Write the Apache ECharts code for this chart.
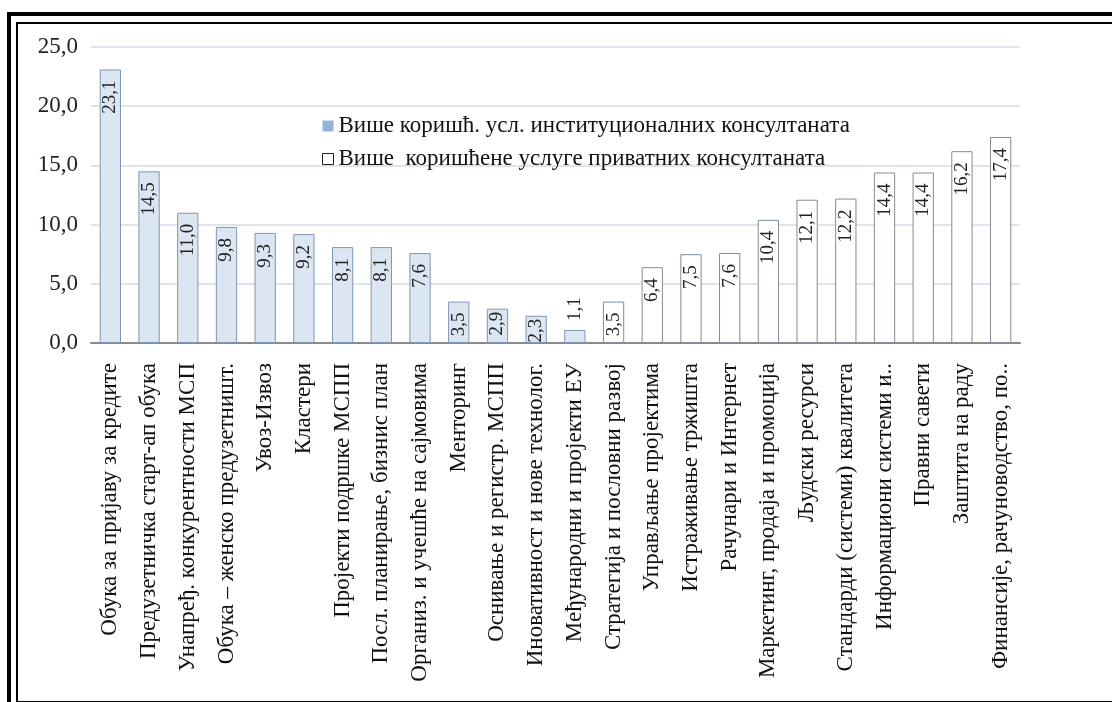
<!DOCTYPE html>
<html>
<head>
<meta charset="utf-8">
<script src="https://cdn.jsdelivr.net/npm/echarts@6/dist/echarts.min.js"></script>
<style>
  html, body { margin: 0; padding: 0; background: #fff; }
  #frame-outer { position: absolute; left: 7px; top: 12px; width: 1200px; height: 800px;
    border-left: 4px solid #000; border-top: 4px solid #000; }
  #frame-inner { position: absolute; left: 16px; top: 22px; width: 1200px; height: 677px;
    border-left: 2px solid #000; border-top: 2px solid #000; border-bottom: 2px solid #000; }
  #chart { position: absolute; left: 0; top: 0; width: 1112px; height: 702px; }
</style>
</head>
<body>
<div id="frame-outer"></div>
<div id="frame-inner"></div>
<div id="chart"></div>
<script>
// Service categories (share, %), sorted: institutional consultants first, then private
const categories = [
  'Обука за пријаву за кредите',
  'Предузетничка старт-ап обука',
  'Унапређ. конкурентности МСП',
  'Обука – женско предузетништ.',
  'Увоз-Извоз',
  'Кластери',
  'Пројекти подршке МСПП',
  'Посл. планирање, бизнис план',
  'Организ. и учешће на сајмовима',
  'Менторинг',
  'Оснивање и регистр. МСПП',
  'Иновативност и нове технолог.',
  'Међународни и пројекти ЕУ',
  'Стратегија и пословни развој',
  'Управљање пројектима',
  'Истраживање тржишта',
  'Рачунари и Интернет',
  'Маркетинг, продаја и промоција',
  'Људски ресурси',
  'Стандарди (системи) квалитета',
  'Информациони системи и..',
  'Правни савети',
  'Заштита на раду',
  'Финансије, рачуноводство, по..'
];
const shares = [23.1, 14.5, 11.0, 9.8, 9.3, 9.2, 8.1, 8.1, 7.6, 3.5, 2.9, 2.3, 1.1,
                3.5, 6.4, 7.5, 7.6, 10.4, 12.1, 12.2, 14.4, 14.4, 16.2, 17.4];
// number of leading categories where institutional consultants were used more
const institutionalCount = 13;
const seriesNames = [
  'Више коришћ. усл. институционалних консултаната',
  'Више  коришћене услуге приватних консултаната'
];
const yTicks = { min: 0, max: 25, interval: 5 };

const serif = '"Liberation Serif", "DejaVu Serif", serif';
const fmt = v => v.toFixed(1).replace('.', ',');

// value labels sit inside the bar end; short bars pull them up tight,
// the shortest bars get them just above the bar
const valueLabel = {
  show: true,
  position: 'insideTop',
  rotate: 90,
  align: 'right',
  verticalAlign: 'middle',
  distance: 11,
  fontFamily: serif,
  fontSize: 19,
  color: '#222',
  formatter: p => fmt(p.value)
};
const outsideLabel = { position: 'top', align: 'left', distance: 9 };
const tightLabel = { distance: 3 };

const toItem = v => {
  if (v < 2) return { value: v, label: outsideLabel };
  if (v < 3) return { value: v, label: tightLabel };
  return v;
};
const instData = shares.map((v, i) => i < institutionalCount ? toItem(v) : '-');
const privData = shares.map((v, i) => i >= institutionalCount ? toItem(v) : '-');

const chart = echarts.init(document.getElementById('chart'), null, { renderer: 'canvas' });
chart.setOption({
  animation: false,
  backgroundColor: 'transparent',
  grid: { left: 91, right: 92, top: 47, bottom: 359 },
  legend: {
    orient: 'vertical',
    left: 317,
    top: 109,
    itemWidth: 11,
    itemHeight: 11,
    itemGap: 9,
    icon: 'rect',
    textStyle: { fontFamily: serif, fontSize: 23, lineHeight: 24, color: '#111', padding: [0, 0, 0, 0] },
    data: [
      { name: seriesNames[0], itemStyle: { color: '#95b3d7', borderWidth: 0 } },
      { name: seriesNames[1], itemStyle: { color: '#fff', borderColor: '#222', borderWidth: 1 } }
    ]
  },
  xAxis: {
    type: 'category',
    data: categories,
    axisTick: { show: false },
    axisLine: { lineStyle: { color: '#8a8a8a', width: 2 } },
    axisLabel: {
      interval: 0,
      rotate: 90,
      margin: 20,
      fontFamily: serif,
      fontSize: 23,
      color: '#111'
    }
  },
  yAxis: {
    type: 'value',
    min: yTicks.min,
    max: yTicks.max,
    interval: yTicks.interval,
    axisLine: { show: false },
    axisTick: { show: false },
    splitLine: { lineStyle: { color: '#d5dbe6', width: 1.5 } },
    axisLabel: {
      margin: 13,
      fontFamily: serif,
      fontSize: 23,
      color: '#222',
      formatter: v => fmt(v)
    }
  },
  series: [
    {
      name: seriesNames[0],
      type: 'bar',
      stack: 'share',
      data: instData,
      barWidth: '55%',
      itemStyle: { color: '#dce6f2', borderColor: '#7f97b2', borderWidth: 1 },
      label: valueLabel
    },
    {
      name: seriesNames[1],
      type: 'bar',
      stack: 'share',
      data: privData,
      barWidth: '55%',
      itemStyle: { color: '#ffffff', borderColor: '#7f8c99', borderWidth: 1 },
      label: valueLabel
    }
  ]
});
</script>
</body>
</html>
